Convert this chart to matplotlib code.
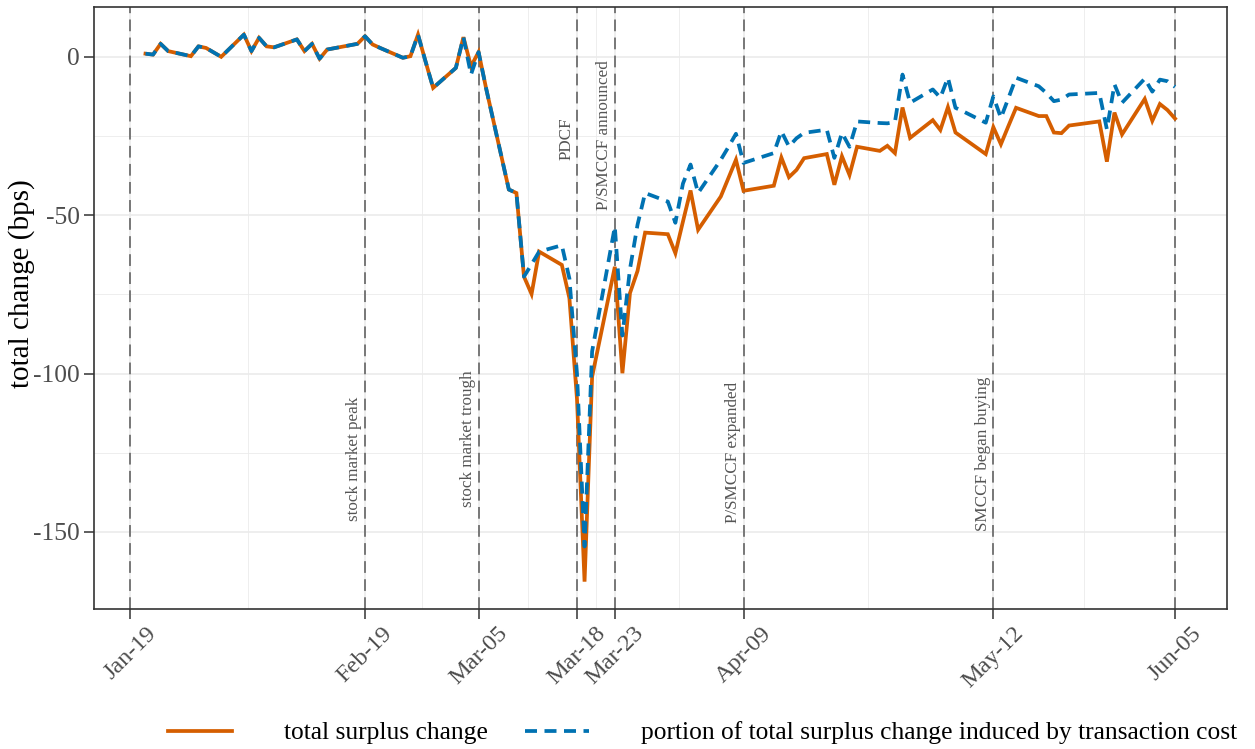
import numpy as np
import pandas as pd
import matplotlib
matplotlib.use("Agg")
import matplotlib.pyplot as plt
import matplotlib.dates as mdates
from matplotlib.lines import Line2D

plt.rcParams['font.family'] = ['Liberation Serif', 'DejaVu Serif']
plt.rcParams['axes.unicode_minus'] = False

# ---- data -----------------------------------------------------------------
dates = [
    "2020-01-21", "2020-01-22", "2020-01-23", "2020-01-24", "2020-01-27", "2020-01-28",
    "2020-01-29", "2020-01-30", "2020-01-31",
    "2020-02-03", "2020-02-04", "2020-02-05", "2020-02-06", "2020-02-07", "2020-02-10",
    "2020-02-11", "2020-02-12", "2020-02-13", "2020-02-14", "2020-02-18", "2020-02-19",
    "2020-02-20", "2020-02-21", "2020-02-24", "2020-02-25", "2020-02-26", "2020-02-27",
    "2020-02-28",
    "2020-03-02", "2020-03-03", "2020-03-04", "2020-03-05", "2020-03-06", "2020-03-09",
    "2020-03-10", "2020-03-11", "2020-03-12", "2020-03-13", "2020-03-16", "2020-03-17",
    "2020-03-18", "2020-03-19", "2020-03-20", "2020-03-23", "2020-03-24", "2020-03-25",
    "2020-03-26", "2020-03-27", "2020-03-30", "2020-03-31",
    "2020-04-01", "2020-04-02", "2020-04-03", "2020-04-06", "2020-04-07", "2020-04-08",
    "2020-04-09", "2020-04-13", "2020-04-14", "2020-04-15", "2020-04-16", "2020-04-17",
    "2020-04-20", "2020-04-21", "2020-04-22", "2020-04-23", "2020-04-24", "2020-04-27",
    "2020-04-28", "2020-04-29", "2020-04-30",
    "2020-05-01", "2020-05-04", "2020-05-05", "2020-05-06", "2020-05-07", "2020-05-08",
    "2020-05-11", "2020-05-12", "2020-05-13", "2020-05-14", "2020-05-15", "2020-05-18",
    "2020-05-19", "2020-05-20", "2020-05-21", "2020-05-22", "2020-05-26", "2020-05-27",
    "2020-05-28", "2020-05-29",
    "2020-06-01", "2020-06-02", "2020-06-03", "2020-06-04", "2020-06-05",
]

total_surplus = [
    1.0, 0.7, 4.1, 1.8, 0.2, 3.3, 2.8, 1.4, 0.0,
    7.0, 1.8, 6.0, 3.3, 3.0, 5.5, 1.8, 4.1, -0.6, 2.3, 4.1, 6.5, 3.9, 2.8, -0.3, 0.2, 7.0, -1.5,
    -9.8,
    -3.5, 6.2, -3.0, 1.5, -10.0, -41.9, -43.0, -69.4, -74.9, -61.5, -65.7, -76.2,
    -108.0, -165.7, -101.0, -66.3, -99.9, -74.6, -67.6, -55.5, -56.0, -62.0,
    -52.0, -42.2, -54.6, -44.1, -38.3, -32.5, -42.3, -40.7, -31.8, -38.0, -35.7, -32.0,
    -30.7, -40.4, -31.4, -37.3, -28.4, -29.7, -28.1, -30.4, -16.0,
    -25.6, -20.0, -23.1, -15.9, -23.9, -25.6, -30.7, -22.2, -27.6, -21.8, -16.1, -18.7,
    -18.7, -23.9, -24.1, -21.7, -20.4, -33.1, -17.6, -24.5,
    -13.3, -20.2, -14.9, -16.8, -19.5,
]

tcost_portion = [
    1.0, 0.7, 4.1, 1.8, 0.2, 3.3, 2.8, 1.4, 0.0,
    7.0, 1.8, 6.0, 3.3, 3.0, 5.5, 1.8, 4.1, -0.6, 2.3, 4.1, 6.5, 3.9, 2.8, -0.3, 0.2, 7.0, -1.5,
    -9.8,
    -3.5, 6.2, -5.6, 1.5, -10.0, -41.9, -43.0, -69.4, -65.5, -61.5, -59.5, -70.0,
    -100.0, -154.6, -93.0, -53.6, -88.0, -67.0, -53.0, -43.0, -45.7, -52.4,
    -40.0, -34.0, -43.0, -32.5, -28.5, -24.3, -33.5, -30.4, -23.5, -28.3, -25.7, -24.0,
    -23.0, -31.9, -24.0, -28.4, -20.4, -20.9, -21.0, -20.6, -5.6,
    -14.5, -10.3, -12.9, -6.6, -16.1, -17.2, -20.8, -12.5, -19.3, -13.0, -6.6, -9.3,
    -11.4, -14.0, -13.5, -11.9, -11.4, -22.9, -8.7, -14.5,
    -6.9, -11.0, -7.2, -7.7, -9.5,
]

event_dates = ["2020-01-19", "2020-02-19", "2020-03-05", "2020-03-18", "2020-03-23",
               "2020-04-09", "2020-05-12", "2020-06-05"]
event_ticklabels = ["Jan-19", "Feb-19", "Mar-05", "Mar-18", "Mar-23",
                    "Apr-09", "May-12", "Jun-05"]

# event annotations: (vline date, text, vertical centre in bps)
event_notes = [
    ("2020-02-19", "stock market peak", -127.0),
    ("2020-03-05", "stock market trough", -120.5),
    ("2020-03-18", "PDCF", -25.8),
    ("2020-03-23", "P/SMCCF announced", -24.8),
    ("2020-04-09", "P/SMCCF expanded", -125.0),
    ("2020-05-12", "SMCCF began buying", -125.2),
]

y_ticks = [0, -50, -100, -150]
y_ticklabels = ["0", "-50", "-100", "-150"]

series_labels = ["total surplus change",
                 "portion of total surplus change induced by transaction cost"]

# ---- figure ---------------------------------------------------------------
W, H = 1255, 749
fig = plt.figure(figsize=(W / 100, H / 100), dpi=100)
ax = fig.add_axes([94 / W, (H - 609) / H, (1226.5 - 94) / W, (609 - 7.3) / H])

x = mdates.date2num(pd.to_datetime(dates))
ev = mdates.date2num(pd.to_datetime(event_dates))

orange = "#D55E00"
blue = "#0072B2"

# gridlines (major at event dates, minor halfway between)
minor_x = (ev[:-1] + ev[1:]) / 2
ax.set_xticks(ev)
ax.set_xticks(minor_x, minor=True)
ax.set_yticks(y_ticks)
ax.set_yticks([-25, -75, -125], minor=True)
ax.grid(which='major', color='#EBEBEB', lw=1.2, zorder=0)
ax.grid(which='minor', color='#EBEBEB', lw=0.6, zorder=0)
ax.set_axisbelow(True)

for d in ev:
    ax.axvline(d, color='#6E6E6E', lw=1.3, ls=(0, (6.5, 3.5)), zorder=1.5)

ax.plot(x, total_surplus, color=orange, lw=2.7, solid_joinstyle='miter', zorder=3)
ax.plot(x, tcost_portion, color=blue, lw=2.7, ls=(0, (3.2, 2.0)), zorder=4)

for d, txt, yc in event_notes:
    xd = mdates.date2num(pd.Timestamp(d)) - 1.42
    ax.text(xd, yc, txt, rotation=90, ha='center', va='center',
            fontsize=12.3, color='#555555', zorder=5)

# limits with 5% expansion around data
x0, x1 = x.min(), x.max()
pad = 0.05 * (x1 - x0)
ax.set_xlim(x0 - pad, x1 + pad)
ymin = min(min(total_surplus), min(tcost_portion))
ymax = max(max(total_surplus), max(tcost_portion))
ypad = 0.05 * (ymax - ymin)
ax.set_ylim(ymin - ypad, ymax + ypad)

ax.set_xticklabels(event_ticklabels, rotation=45, ha='center', va='top',
                   fontsize=17.5, color='#4D4D4D')
ax.set_yticklabels(y_ticklabels, fontsize=18.4, color='#4D4D4D')
ax.tick_params(which='major', length=7, width=1.1, color='#333333', pad=3)
ax.tick_params(which='minor', length=0)
ax.tick_params(axis='x', pad=3)

for s in ax.spines.values():
    s.set_color('#333333')
    s.set_linewidth(1.2)

fig.text(22 / W, 1 - 284 / H, "total change (bps)", rotation=90,
         ha='center', va='center', fontsize=21, color='black')

handles = [Line2D([], [], color=orange, lw=2.7),
           Line2D([], [], color=blue, lw=2.7, ls=(0, (3.2, 2.0)))]
fig.legend(handles, series_labels, loc='center left',
           bbox_to_anchor=(168 / W, 1 - 733 / H), ncol=2, frameon=False,
           fontsize=18.4, handlelength=2.5, handletextpad=2.05,
           columnspacing=1.45, borderpad=0, borderaxespad=0)

fig.savefig("out.png", dpi=100)
